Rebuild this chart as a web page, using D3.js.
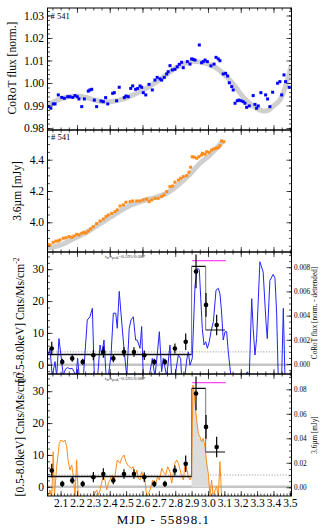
<!DOCTYPE html>
<html>
<head>
<meta charset="utf-8">
<script src="https://cdn.jsdelivr.net/npm/d3@7"></script>
<style>
body { margin: 0; background: #fff; }
svg { display: block; font-family: "Liberation Serif", "DejaVu Serif", serif; }
</style>
</head>
<body>
<script>
// CoRoT optical light curve (normalised) and its smooth fit
const corotX = [2.025,2.040,2.055,2.066,2.086,2.107,2.123,2.143,2.157,2.174,2.188,2.202,2.212,2.229,2.245,2.269,2.279,2.290,2.306,2.320,2.347,2.361,2.375,2.388,2.418,2.428,2.442,2.458,2.489,2.499,2.513,2.528,2.540,2.558,2.571,2.585,2.595,2.605,2.620,2.640,2.660,2.676,2.690,2.707,2.717,2.733,2.748,2.757,2.768,2.782,2.798,2.812,2.825,2.839,2.849,2.874,2.890,2.900,2.910,2.921,2.947,2.961,2.971,2.982,2.996,3.018,3.037,3.049,3.063,3.073,3.093,3.108,3.120,3.130,3.145,3.154,3.165,3.179,3.189,3.201,3.215,3.226,3.236,3.252,3.276,3.287,3.297,3.307,3.323,3.352,3.364,3.378,3.395,3.425,3.439,3.450,3.464,3.474,3.496];
const corotY = [0.9895,0.9888,0.9907,0.9907,0.9947,0.9936,0.9932,0.9939,0.9939,0.9936,0.9944,0.9939,0.9929,0.9895,0.9929,0.9964,0.9969,0.9972,0.9924,0.9895,0.9920,0.9917,0.9935,0.9907,0.9954,0.9957,0.9921,0.9981,0.9935,0.9942,0.9939,0.9976,0.9987,0.9972,0.9976,0.9987,0.9981,0.9957,0.9947,0.9994,0.9969,1.0013,1.0025,1.0018,1.0013,1.0025,1.0040,1.0050,1.0077,1.0058,1.0061,1.0072,1.0083,1.0092,1.0068,1.0095,1.0084,1.0107,1.0105,1.0102,1.0169,1.0090,1.0095,1.0102,1.0095,1.0076,1.0084,1.0114,1.0107,1.0099,1.0040,1.0043,1.0031,1.0001,0.9984,0.9969,0.9910,0.9921,0.9924,0.9921,0.9917,0.9910,0.9892,0.9898,0.9944,0.9905,0.9888,0.9898,0.9957,0.9947,0.9929,0.9895,0.9959,0.9999,1.0006,0.9947,1.0036,1.0006,0.9981];
const corotFitX = [2.020,2.066,2.109,2.157,2.206,2.255,2.310,2.359,2.414,2.475,2.542,2.615,2.688,2.768,2.829,2.908,2.981,3.042,3.114,3.164,3.213,3.268,3.305,3.335,3.366,3.396,3.439,3.470,3.510];
const corotFitY = [0.9902,0.9920,0.9931,0.9940,0.9942,0.9936,0.9924,0.9917,0.9918,0.9927,0.9947,0.9973,1.0006,1.0049,1.0078,1.0095,1.0089,1.0071,1.0028,0.9987,0.9939,0.9902,0.9884,0.9876,0.9878,0.9896,0.9924,0.9978,1.0080];

// Spitzer 3.6 micron light curve (mJy) and its fit
const irX = [2.021,2.035,2.055,2.072,2.086,2.096,2.116,2.133,2.151,2.168,2.182,2.198,2.212,2.229,2.243,2.255,2.269,2.284,2.300,2.320,2.341,2.361,2.377,2.391,2.412,2.432,2.446,2.463,2.483,2.499,2.524,2.540,2.565,2.585,2.605,2.626,2.641,2.656,2.676,2.696,2.717,2.731,2.748,2.768,2.784,2.798,2.819,2.833,2.849,2.870,2.884,2.894,2.904,2.916,2.931,2.945,2.961,2.966,2.982,2.992,3.008,3.022,3.036,3.049,3.063,3.073,3.083,3.097];
const irY = [3.859,3.855,3.872,3.880,3.880,3.887,3.898,3.901,3.908,3.904,3.912,3.923,3.919,3.930,3.936,3.931,3.944,3.957,3.972,3.991,4.008,4.021,4.036,4.047,4.057,4.068,4.079,4.104,4.111,4.128,4.132,4.136,4.136,4.136,4.143,4.149,4.132,4.143,4.153,4.153,4.164,4.175,4.196,4.228,4.232,4.256,4.270,4.281,4.292,4.298,4.320,4.352,4.419,4.416,4.409,4.419,4.430,4.441,4.435,4.451,4.447,4.462,4.469,4.473,4.477,4.490,4.520,4.515];
const irFitX = [2.020,2.066,2.109,2.176,2.249,2.310,2.371,2.444,2.524,2.597,2.676,2.750,2.817,2.890,2.951,3.012,3.093];
const irFitY = [3.835,3.845,3.858,3.893,3.931,3.970,4.011,4.059,4.107,4.136,4.158,4.187,4.238,4.307,4.377,4.430,4.520];

// X-ray binned rate (Cnts/Ms/cm^-2, 0.5-8.0 keV)
const xrayX = [2.046,2.110,2.171,2.235,2.300,2.361,2.422,2.487,2.548,2.611,2.672,2.737,2.798,2.864,2.927,2.988,3.053];
const xrayY = [5.1,0.9,2.0,0.9,3.0,4.0,2.0,4.0,4.0,3.0,0.9,0.9,5.1,7.2,29.3,18.8,12.5];
const xrayErr = [2.1,1.0,1.05,1.0,1.6,1.8,1.2,1.5,1.5,1.5,1.0,1.0,1.6,2.6,5.3,3.7,3.2];

// Bayesian block edges and levels
const blockEdges = [2.02, 2.90, 2.986, 3.104];
const blockLevels = [3.2, 30.9, 10.9];
const flareSpan = [2.904, 3.108];
const flareLevel = 32.7;

// detrended CoRoT flux
const corotDetX = [2.025,2.035,2.049,2.066,2.076,2.090,2.102,2.116,2.131,2.143,2.157,2.171,2.182,2.194,2.204,2.214,2.239,2.263,2.279,2.294,2.306,2.326,2.341,2.351,2.365,2.378,2.391,2.408,2.422,2.437,2.446,2.458,2.473,2.487,2.504,2.519,2.530,2.544,2.558,2.568,2.585,2.595,2.605,2.635,2.646,2.660,2.676,2.690,2.703,2.717,2.727,2.748,2.768,2.778,2.798,2.819,2.833,2.839,2.859,2.870,2.880,2.890,2.904,2.921,2.935,2.947,2.956,2.965,2.976,2.986,2.996,3.008,3.018,3.033,3.049,3.063,3.073,3.083,3.093,3.104,3.114,3.124,3.138,3.151,3.226,3.240,3.252,3.267,3.276,3.287,3.297,3.317,3.337,3.354,3.362,3.378,3.398,3.409,3.419,3.429,3.450,3.460,3.470,3.480];
const corotDetY = [0.00074,0.0013,-0.00105,0.0002,-0.00105,0.0021,0.00074,-0.0009,-0.0004,-0.0003,-0.0004,-0.00036,-0.00064,-0.00105,0.00047,-0.00105,-0.00105,0.00364,0.0039,0.0046,-0.00105,-0.00105,0.00157,0.00074,0.00198,-0.00105,-0.00105,0.00074,0.0042,0.0042,0.00295,0.006,0.0035,0.0013,-0.00105,0.00295,0.00364,0.0039,0.00198,0.00198,0.0013,0.0031,-0.00105,-0.00105,-0.00064,0.00047,-0.00105,0.00074,0.00267,-0.00064,0.00047,-0.00105,0.00157,-0.00105,-0.00105,0.00074,0.00047,-0.00105,-0.00105,0.00033,0.001,-0.0001,0.00047,0.0065,0.0079,0.0078,0.0054,0.00295,0.00157,0.00184,0.0013,0.00184,0.00267,0.0035,0.0061,0.00626,0.0058,0.0043,0.00198,0.00267,0.00267,0.001,-0.00077,-0.00105,-0.00105,-0.00064,-0.00105,0.0054,0.00295,0.00074,0.0021,0.00845,0.0076,0.0035,0.0021,0.0069,0.0074,0.0071,0.0043,-0.00105,-0.00105,0.0046,-0.00105,-0.00105];

// detrended 3.6 micron flux (mJy)
const irDetX = [2.021,2.035,2.046,2.055,2.062,2.076,2.092,2.102,2.116,2.127,2.137,2.147,2.157,2.168,2.178,2.188,2.198,2.208,2.300,2.310,2.320,2.331,2.341,2.352,2.361,2.371,2.382,2.392,2.402,2.413,2.422,2.432,2.446,2.463,2.473,2.487,2.499,2.510,2.519,2.534,2.544,2.555,2.566,2.575,2.585,2.595,2.605,2.615,2.626,2.646,2.662,2.676,2.692,2.703,2.718,2.728,2.742,2.754,2.768,2.778,2.788,2.798,2.809,2.819,2.830,2.840,2.850,2.860,2.870,2.880,2.890,2.900,2.908,2.914,2.921,2.931,2.941,2.951,2.961,2.971,2.982,2.992,3.002,3.012,3.022,3.032,3.043,3.053,3.063,3.073,3.083,3.093];
const irDetY = [-0.0077,-0.0022,-0.0077,0.029,-0.0077,0.0168,0.0359,0.0386,0.0372,0.0386,0.0331,0.0209,0.0141,0.0182,0.0087,-0.0077,0.0223,-0.0077,-0.0077,-0.0049,-0.0022,-0.0063,-0.0022,0.0046,0.0087,0.006,-0.0022,0.0033,0.006,0.01,0.0033,0.0087,0.0223,0.0196,0.0237,0.0264,0.0209,0.0182,0.0168,0.0155,0.0168,0.0087,0.0141,0.0073,0.006,0.0127,0.0087,0.006,-0.0077,-0.0022,0.006,0.0005,0.0087,0.006,0.0155,0.0127,0.01,0.0168,0.0127,0.0033,0.0114,0.0196,0.0223,0.0196,0.0141,0.0087,0.006,0.0196,0.0155,0.0087,0.006,0.0087,0.0835,0.0794,0.0686,0.0549,0.0441,0.0413,0.0372,0.04,0.0331,0.0196,0.0114,-0.0077,0.006,-0.0077,-0.0022,0.0005,-0.0077,0.0209,-0.0077,-0.0077];

const xTickLabels = ['2.1','2.2','2.3','2.4','2.5','2.6','2.7','2.8','2.9','3.0','3.1','3.2','3.3','3.4','3.5'];

const W = 327, H = 531;
const L = 47.5, R = 291.5;
const tops = [8, 130, 252, 374], ph = 122;
const serif = '"Liberation Serif", "DejaVu Serif", serif';

const x = d3.scaleLinear().domain([2.02, 3.51]).range([L, R]);

const svg = d3.select('body').append('svg').attr('width', W).attr('height', H);
const defs = svg.append('defs');

const steps = (a, b, s) => d3.range(Math.ceil(a / s - 1e-6), Math.floor(b / s + 1e-6) + 1).map(k => +(k * s).toFixed(6));

function panel(i, dom) {
    let top = tops[i];
    let y = d3.scaleLinear().domain(dom).range([top + ph, top]);
    defs.append('clipPath').attr('id', 'clip' + i)
        .append('rect').attr('x', L).attr('y', top).attr('width', R - L).attr('height', ph);
    let g = svg.append('g');
    let plot = g.append('g').attr('clip-path', `url(#clip${i})`);
    return { top, y, g, plot };
}

function axis(g, a, tr, size) {
    let s = g.append('g').attr('transform', tr).call(a);
    s.select('.domain').remove();
    s.selectAll('line').attr('stroke', '#000').attr('stroke-width', 0.7);
    s.selectAll('text').attr('font-family', serif).attr('fill', '#000').attr('font-size', size || 11.5);
    return s;
}

const none = () => '';

function frame(p, opts) {
    let { g, y, top } = p;
    let bot = top + ph;
    // x ticks top and bottom
    axis(g, d3.axisBottom(x).tickValues(steps(2.2, 3.4, 0.2)).tickSize(5).tickFormat(none), `translate(0,${top})`);
    axis(g, d3.axisBottom(x).tickValues(steps(2.05, 3.5, 0.05)).tickSize(2.5).tickFormat(none), `translate(0,${top})`);
    if (opts.bottomLabels) {
        axis(g, d3.axisBottom(x).tickValues(steps(2.1, 3.5, 0.1)).tickSize(-5).tickPadding(3)
            .tickFormat((d, i) => xTickLabels[i]), `translate(0,${bot})`, 11.5);
        axis(g, d3.axisBottom(x).tickValues(steps(2.04, 3.5, 0.02)).tickSize(-2.5).tickFormat(none), `translate(0,${bot})`);
    } else {
        axis(g, d3.axisTop(x).tickValues(steps(2.2, 3.4, 0.2)).tickSize(5).tickFormat(none), `translate(0,${bot})`);
        axis(g, d3.axisTop(x).tickValues(steps(2.05, 3.5, 0.05)).tickSize(2.5).tickFormat(none), `translate(0,${bot})`);
    }
    let [lo, hi] = y.domain();
    axis(g, d3.axisLeft(y).tickValues(steps(lo, hi, opts.major)).tickSize(-5).tickPadding(3.5).tickFormat(d3.format(opts.fmt)), `translate(${L},0)`);
    axis(g, d3.axisLeft(y).tickValues(steps(lo, hi, opts.minor)).tickSize(-2.5).tickFormat(none), `translate(${L},0)`);
    if (opts.yr) {
        let [rlo, rhi] = opts.yr.domain();
        axis(g, d3.axisRight(opts.yr).tickValues(steps(rlo, rhi, opts.rmajor)).tickSize(-5).tickPadding(2.5).tickFormat(d3.format(opts.rfmt)), `translate(${R},0)`, 7.2);
        axis(g, d3.axisRight(opts.yr).tickValues(steps(rlo, rhi, opts.rminor)).tickSize(-2.5).tickFormat(none), `translate(${R},0)`);
    } else {
        axis(g, d3.axisRight(y).tickValues(steps(lo, hi, opts.major)).tickSize(-5).tickFormat(none), `translate(${R},0)`);
        axis(g, d3.axisRight(y).tickValues(steps(lo, hi, opts.minor)).tickSize(-2.5).tickFormat(none), `translate(${R},0)`);
    }
    g.append('rect').attr('x', L).attr('y', top).attr('width', R - L).attr('height', ph)
        .attr('fill', 'none').attr('stroke', '#000').attr('stroke-width', 1);
}

function yTitle(txt, cx, cy, size, sup) {
    let t = svg.append('text').attr('transform', `translate(${cx},${cy}) rotate(-90)`)
        .attr('text-anchor', 'middle').attr('font-family', serif).attr('font-size', size).attr('fill', '#000');
    t.append('tspan').text(txt);
    if (sup) t.append('tspan').attr('dy', -size * 0.4).attr('font-size', size * 0.65).text(sup);
    return t;
}

function tag(p, tx, ty) {
    p.g.append('text').attr('x', tx).attr('y', ty).attr('font-family', serif).attr('font-size', 8.5).text('# 541');
}

function ratioNote(p, ty) {
    let t = p.g.append('text').attr('x', 105).attr('y', ty).attr('font-family', serif).attr('font-size', 5).attr('fill', '#333');
    t.append('tspan').text('t');
    t.append('tspan').attr('font-size', 3.5).attr('dy', 1).text('in');
    t.append('tspan').attr('dy', -1).text('/t');
    t.append('tspan').attr('font-size', 3.5).attr('dy', 1).text('peak');
    t.append('tspan').attr('dy', -1).text('=0.595/0.087');
}

const line = (xs, ys, yy) => d3.line().x((d, i) => x(xs[i])).y(d => yy(d))(ys);

// ---- panel 1: CoRoT
let p1 = panel(0, [0.97911, 1.03333]);
p1.plot.append('path').attr('d', d3.line().curve(d3.curveCatmullRom).x((d, i) => x(corotFitX[i])).y(d => p1.y(d))(corotFitY))
    .attr('fill', 'none').attr('stroke', '#cfcfcf').attr('stroke-width', 5);
p1.plot.selectAll('rect.pt').data(corotY).enter().append('rect')
    .attr('x', (d, i) => x(corotX[i]) - 1.5).attr('y', d => p1.y(d) - 1.5)
    .attr('width', 3).attr('height', 3).attr('fill', '#0000ff');
frame(p1, { major: 0.01, minor: 0.002, fmt: '.2f' });
tag(p1, 50.5, 18.5);
yTitle('CoRoT flux [norm.]', 16, 68, 11.5);

// ---- panel 2: 3.6 micron
let p2 = panel(1, [3.81, 4.59]);
p2.plot.append('path').attr('d', d3.line().curve(d3.curveCatmullRom).x((d, i) => x(irFitX[i])).y(d => p2.y(d))(irFitY))
    .attr('fill', 'none').attr('stroke', '#cfcfcf').attr('stroke-width', 5);
p2.plot.selectAll('rect.pt').data(irY).enter().append('rect')
    .attr('x', (d, i) => x(irX[i]) - 1.5).attr('y', d => p2.y(d) - 1.5)
    .attr('width', 3).attr('height', 3).attr('fill', '#ff8c1a');
frame(p2, { major: 0.2, minor: 0.05, fmt: '.1f' });
tag(p2, 51, 140);
yTitle('3.6\u00b5m [mJy]', 21, 191, 11.5);

// ---- X-ray panels (3 and 4)
function xrayPanel(i, rDom, series, rThresh, color, fillTo) {
    let p = panel(i, [-2.9, 35.4]);
    let yr = d3.scaleLinear().domain(rDom).range([p.top + ph, p.top]);
    p.yr = yr;
    // zero level
    p.plot.append('line').attr('x1', L).attr('x2', R).attr('y1', p.y(0)).attr('y2', p.y(0))
        .attr('stroke', '#c4c4c4').attr('stroke-width', 2.5);
    // threshold
    p.plot.append('line').attr('x1', L).attr('x2', R).attr('y1', yr(rThresh)).attr('y2', yr(rThresh))
        .attr('stroke', '#777').attr('stroke-width', 0.7).attr('stroke-dasharray', '1.2,1.6');
    if (fillTo) {
        let idx = series[0].map((d, k) => k).filter(k => series[0][k] >= blockEdges[1] && series[0][k] <= fillTo);
        let area = d3.area().x(k => x(series[0][k])).y0(yr(0)).y1(k => yr(Math.max(0, series[1][k])));
        p.plot.append('path').attr('d', area(idx)).attr('fill', '#dcdcdc');
    }
    p.plot.append('path').attr('d', line(series[0], series[1], yr))
        .attr('fill', 'none').attr('stroke', color).attr('stroke-width', 1);
    // blocks
    blockLevels.forEach((lv, k) => {
        p.plot.append('line').attr('x1', x(blockEdges[k])).attr('x2', x(blockEdges[k + 1]))
            .attr('y1', p.y(lv)).attr('y2', p.y(lv)).attr('stroke', '#111').attr('stroke-width', k === 0 ? 1.6 : 1.1);
        if (k > 0) {
            p.plot.append('line').attr('x1', x(blockEdges[k])).attr('x2', x(blockEdges[k]))
                .attr('y1', p.y(blockLevels[k - 1])).attr('y2', p.y(lv)).attr('stroke', '#666').attr('stroke-width', 0.9);
        }
    });
    p.plot.append('line').attr('x1', x(flareSpan[0])).attr('x2', x(flareSpan[1]))
        .attr('y1', p.y(flareLevel)).attr('y2', p.y(flareLevel)).attr('stroke', '#ff44ff').attr('stroke-width', 1.1);
    // X-ray points
    p.plot.selectAll('line.err').data(xrayY).enter().append('line')
        .attr('x1', (d, k) => x(xrayX[k])).attr('x2', (d, k) => x(xrayX[k]))
        .attr('y1', (d, k) => p.y(d - xrayErr[k])).attr('y2', (d, k) => p.y(d + xrayErr[k]))
        .attr('stroke', '#000').attr('stroke-width', 1.2);
    p.plot.selectAll('circle').data(xrayY).enter().append('circle')
        .attr('cx', (d, k) => x(xrayX[k])).attr('cy', d => p.y(d)).attr('r', 2.3).attr('fill', '#000');
    return p;
}

let p3 = xrayPanel(2, [-0.000826, 0.009256], [corotDetX, corotDetY], 0.001, '#2323ff', null);
frame(p3, { major: 10, minor: 2, fmt: 'd', yr: p3.yr, rmajor: 0.002, rminor: 0.0005, rfmt: '.3f' });
ratioNote(p3, 257.5);
yTitle('[0.5-8.0keV] Cnts/Ms/cm', 24, 320, 11.5, '-2');
yTitle('CoRoT flux [norm. - detrended]', 316.5, 313, 7.2);

let p4 = xrayPanel(3, [-0.0071, 0.0925], [irDetX, irDetY], 0.01, '#ff8c1a', 3.012);
frame(p4, { major: 10, minor: 2, fmt: 'd', yr: p4.yr, rmajor: 0.02, rminor: 0.005, rfmt: '.2f', bottomLabels: true });
ratioNote(p4, 379.5);
yTitle('[0.5-8.0keV] Cnts/Ms/cm', 24, 434, 11.5, '-2');
yTitle('3.6\u00b5m [mJy]', 316.5, 435, 7.2);

svg.append('text').attr('x', 163.5).attr('y', 524).attr('text-anchor', 'middle')
    .attr('font-family', serif).attr('font-size', 13).attr('letter-spacing', 1.1).text('MJD - 55898.1');
</script>
</body>
</html>
